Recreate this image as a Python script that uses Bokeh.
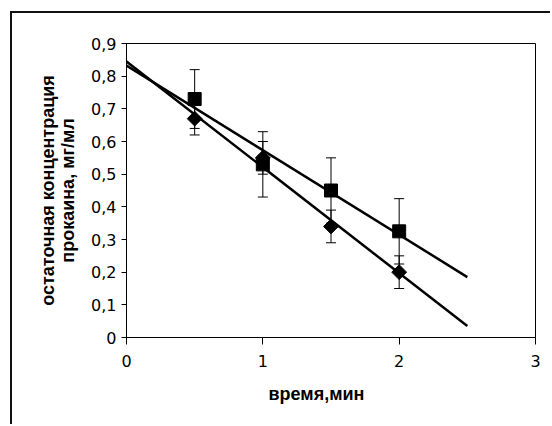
import numpy as np
from bokeh.plotting import figure
from bokeh.models import Range1d, ColumnDataSource, Whisker, FixedTicker, TeeHead, Title
from bokeh.embed import file_html
from bokeh.resources import INLINE

# data
time_min = [0.5, 1.0, 1.5, 2.0]
conc_square = [0.73, 0.53, 0.45, 0.325]
err_square = [0.09, 0.10, 0.10, 0.10]
conc_diamond = [0.67, 0.55, 0.34, 0.20]
err_diamond = [0.05, 0.05, 0.05, 0.05]
trend_extent = [0.0, 2.5]
x_ticks = [0, 1, 2, 3]
x_tick_labels = ["0", "1", "2", "3"]
y_ticks = [0, 0.1, 0.2, 0.3, 0.4, 0.5, 0.6, 0.7, 0.8, 0.9]
y_tick_labels = ["0", "0,1", "0,2", "0,3", "0,4", "0,5", "0,6", "0,7", "0,8", "0,9"]
x_title = "время,мин"
y_title = "остаточная концентрация\nпрокаина, мг/мл"

TICK_FONT = "DejaVu Sans"
LABEL_FONT = "Liberation Sans"

p = figure(width=540, height=413, output_backend="svg", toolbar_location=None,
           x_range=Range1d(0, 3), y_range=Range1d(0, 0.9),
           min_border_left=114, min_border_right=17, min_border_top=30, min_border_bottom=89)
p.margin = (11, 0, 0, 10)
p.styles = {"border-left": "2px solid #111", "border-top": "2px solid #111"}
p.grid.visible = False
p.outline_line_color = "black"
p.outline_line_width = 1
p.background_fill_color = "white"
p.border_fill_color = "white"

for ax in (p.xaxis[0], p.yaxis[0]):
    ax.axis_line_color = "black"
    ax.major_tick_line_color = "black"
    ax.minor_tick_line_color = None
    ax.major_label_text_font = TICK_FONT
    ax.major_label_text_font_size = "16px"
    ax.major_label_text_color = "black"
    ax.axis_label_text_font = LABEL_FONT
    ax.axis_label_text_font_style = "bold"
    ax.axis_label_text_font_size = "18px"
    ax.axis_label_text_color = "black"

p.xaxis.ticker = FixedTicker(ticks=x_ticks)
p.xaxis.major_label_overrides = {t: l for t, l in zip(x_ticks, x_tick_labels)}
p.xaxis.major_tick_out = 7
p.xaxis.major_tick_in = 0
p.xaxis.major_label_standoff = 10

p.add_layout(Title(text=x_title, align="left", offset=142, standoff=24,
                   text_font=LABEL_FONT, text_font_style="bold", text_font_size="18px",
                   text_color="black"), "below")

p.yaxis.ticker = FixedTicker(ticks=y_ticks)
p.yaxis.major_label_overrides = {t: l for t, l in zip(y_ticks, y_tick_labels)}
p.yaxis.major_tick_out = 5
p.yaxis.major_tick_in = 0
p.yaxis.major_label_standoff = 5
p.yaxis.axis_label = y_title
p.yaxis.axis_label_text_line_height = 1.0
p.yaxis.axis_label_standoff = 10

src_s = ColumnDataSource(dict(x=time_min, y=conc_square,
                              lo=[v - e for v, e in zip(conc_square, err_square)],
                              hi=[v + e for v, e in zip(conc_square, err_square)]))
src_d = ColumnDataSource(dict(x=time_min, y=conc_diamond,
                              lo=[v - e for v, e in zip(conc_diamond, err_diamond)],
                              hi=[v + e for v, e in zip(conc_diamond, err_diamond)]))

for src in (src_s, src_d):
    w = Whisker(base="x", upper="hi", lower="lo", source=src, line_color="black", line_width=1,
                upper_head=TeeHead(size=10, line_color="black", line_width=1),
                lower_head=TeeHead(size=10, line_color="black", line_width=1))
    p.add_layout(w)

p.scatter("x", "y", source=src_s, marker="square", size=13, fill_color="black", line_color="black")
p.scatter("x", "y", source=src_d, marker="square", angle=np.pi / 4, size=10.5,
          fill_color="black", line_color="black")

tx = np.array(trend_extent)
for ys in (conc_square, conc_diamond):
    k, b = np.polyfit(time_min, ys, 1)
    p.line(tx, k * tx + b, line_color="black", line_width=2.5)

open("out.html", "w").write(file_html(p, INLINE))
